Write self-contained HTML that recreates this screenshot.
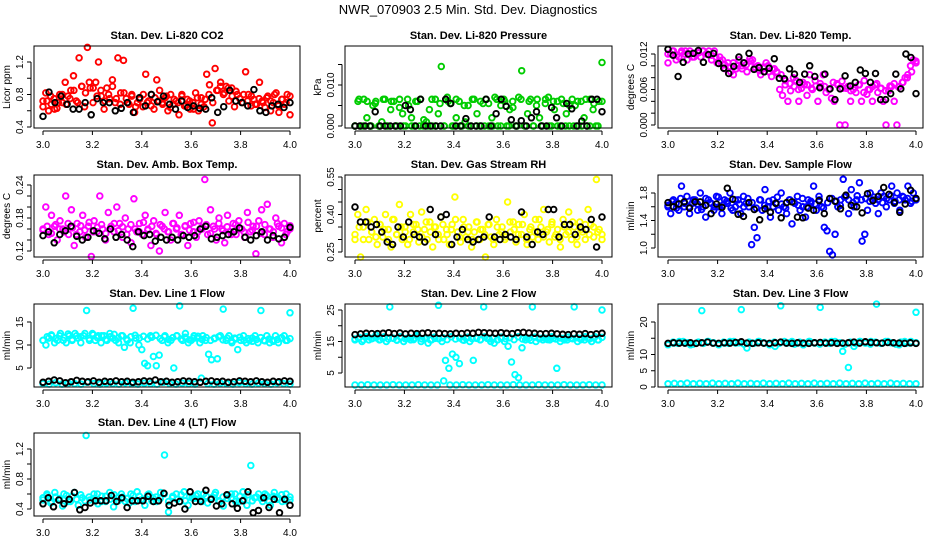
<!DOCTYPE html>
<html><head><meta charset="utf-8"><title>NWR_070903 Diagnostics</title>
<style>
html,body{margin:0;padding:0;background:#fff;}
svg{display:block;font-family:"Liberation Sans",sans-serif;}
</style></head>
<body>
<svg id="chart" width="936" height="540" viewBox="0 0 936 540">
<text x="468" y="14" text-anchor="middle" font-size="13">NWR_070903  2.5 Min. Std. Dev. Diagnostics</text>
</svg>
<script>
// ---- data arrays (x = day fraction, evenly spaced over 3.0..4.0) ----
const xTicks = [3.0, 3.2, 3.4, 3.6, 3.8, 4.0];
const xTickLabels = ["3.0","3.2","3.4","3.6","3.8","4.0"];

const co2Red = [0.72,0.82,0.6,0.68,0.75,0.63,0.8,0.7,0.95,0.78,0.85,1.03,0.72,1.25,0.9,0.65,1.38,0.88,0.7,0.95,1.2,0.78,0.62,0.88,0.75,0.98,0.7,1.25,0.82,1.22,0.75,0.68,0.8,0.58,0.7,0.76,0.65,1.05,0.72,0.8,0.62,0.98,0.85,0.7,0.76,0.6,0.8,0.68,0.72,0.55,0.78,0.66,0.74,0.62,0.7,0.82,0.6,0.76,0.65,1.05,0.92,0.45,1.12,0.85,0.95,0.8,0.9,0.72,0.88,0.65,0.8,0.75,0.7,1.08,0.8,0.66,0.74,0.68,0.95,0.72,0.64,0.78,0.6,0.7,0.82,0.58,0.74,0.68,0.8,0.55];
const co2RedBand = [0.65,0.72,0.78,0.62,0.7,0.8,0.68,0.75,0.85,0.7,0.9,0.82,0.95,0.88,0.78,0.85,0.72,0.8,0.9,0.75,0.68,0.82,0.7,0.78,0.65,0.74,0.8,0.7,0.66,0.76,0.72,0.68,0.78,0.64,0.74,0.7,0.8,0.66,0.72,0.62,0.76,0.68,0.74,0.8,0.7,0.85,0.9,0.82,0.88,0.78,0.84,0.75,0.8,0.72,0.78,0.68,0.75,0.7,0.76,0.72,0.8,0.66,0.74,0.7,0.78];
const co2Black = [0.53,0.83,0.7,0.78,0.68,0.62,0.62,0.7,0.55,0.75,0.7,0.7,0.6,0.63,0.7,0.58,0.76,0.66,0.8,0.71,0.78,0.68,0.62,0.72,0.64,0.66,0.63,0.62,0.76,0.58,0.65,0.85,0.72,0.7,0.66,0.86,0.6,0.58,0.66,0.68,0.64,0.7];

const pressGreen = [0,0.006,0,0.0065,0.002,0,0.005,0.006,0,0.001,0.0065,0,0.004,0.006,0,0.0065,0.003,0,0.005,0.002,0,0.006,0.0065,0,0.001,0.004,0,0.0065,0.003,0.0145,0,0.007,0.0055,0,0.002,0.006,0,0.001,0.005,0,0.0065,0.003,0,0.0055,0.0065,0,0.002,0.007,0,0.005,0.0065,0,0.004,0.006,0,0.007,0.0135,0,0.003,0.0065,0,0.005,0.002,0,0.0065,0.007,0,0.004,0.006,0,0.0055,0.003,0,0.0065,0.005,0,0.006,0.002,0,0.0065,0.004,0,0.006,0.0155];
const pressGreenBand = [0,0.0065,0,0.006,0,0.0055,0,0.0065,0,0.006,0,0.0045,0,0.0065,0,0.006,0,0.0015,0,0.0065,0,0.0055,0,0.006,0,0.0065,0,0.005,0,0.0065,0,0.006,0,0.0055,0,0.0065,0,0.006,0,0.0045,0,0.0065,0,0.006,0,0.0065,0,0.0055,0,0.006,0,0.0065,0,0.005,0,0.006,0,0.0065,0,0.0055,0,0.006];
const pressBlack = [0,0,0,0,0.0035,0,0,0,0,0,0.005,0.004,0,0.0065,0,0,0,0,0.0065,0.0055,0,0,0.0018,0,0,0,0.0065,0,0.003,0.0065,0.0048,0.0015,0,0.0013,0,0.002,0.0035,0,0,0.0045,0.002,0,0.0055,0.0042,0,0.0012,0,0.0065,0.0065,0.0035];

const tempMagenta = [0.0105,0.012,0.0125,0.011,0.0115,0.0125,0.012,0.011,0.0125,0.0115,0.012,0.0125,0.0115,0.0125,0.012,0.0125,0.011,0.0125,0.0105,0.0115,0.011,0.0095,0.0105,0.009,0.0085,0.0095,0.011,0.01,0.0105,0.009,0.0112,0.011,0.0095,0.01,0.0085,0.0098,0.0105,0.009,0.0082,0.0095,0.0088,0.006,0.005,0.0068,0.004,0.0058,0.008,0.0075,0.004,0.0062,0.0068,0.005,0.0085,0.006,0.0075,0.004,0.0065,0.0085,0.0055,0.006,0.0045,0.004,0.007,0,0.0062,0,0.0065,0.004,0.006,0.0055,0.0068,0.004,0.0075,0.0052,0.006,0.004,0.0068,0.0055,0.0062,0.004,0,0.0058,0.0065,0.004,0,0.0065,0.0072,0.008,0.0085,0.01,0.011,0.0108];
const tempMagentaBand = [0.012,0.0125,0.0118,0.0122,0.0125,0.012,0.0115,0.0122,0.0125,0.012,0.0118,0.0115,0.0108,0.0102,0.0098,0.0105,0.01,0.0095,0.0102,0.0108,0.0098,0.0092,0.0096,0.01,0.0094,0.009,0.0085,0.0075,0.007,0.0065,0.006,0.0072,0.0068,0.0062,0.0066,0.007,0.0065,0.006,0.0072,0.0068,0.0074,0.0062,0.0058,0.0064,0.0068,0.0055,0.006,0.0065,0.007,0.0062,0.0058,0.0066,0.007,0.0064,0.0072,0.008,0.009,0.0105];
const tempBlack = [0.0128,0.0118,0.0082,0.0106,0.012,0.0121,0.0126,0.0106,0.0119,0.0121,0.0104,0.0096,0.0087,0.0099,0.0115,0.0105,0.0121,0.0094,0.0097,0.009,0.0096,0.0112,0.0079,0.0078,0.0095,0.0086,0.0072,0.0086,0.01,0.0082,0.0063,0.0086,0.0061,0.0043,0.0061,0.0083,0.0066,0.0072,0.0093,0.0087,0.0072,0.0087,0.0043,0.0043,0.0053,0.0086,0.0061,0.012,0.0114,0.0053];

const ambMagenta = [0.16,0.2,0.15,0.185,0.165,0.14,0.175,0.16,0.22,0.15,0.195,0.13,0.17,0.155,0.185,0.145,0.165,0.11,0.175,0.155,0.22,0.16,0.14,0.19,0.165,0.155,0.2,0.17,0.145,0.18,0.16,0.135,0.215,0.155,0.17,0.15,0.185,0.16,0.13,0.175,0.15,0.12,0.165,0.19,0.155,0.14,0.17,0.16,0.185,0.15,0.165,0.13,0.17,0.155,0.145,0.175,0.16,0.25,0.15,0.195,0.165,0.14,0.18,0.16,0.135,0.185,0.155,0.17,0.15,0.175,0.16,0.145,0.19,0.155,0.165,0.115,0.175,0.195,0.15,0.205,0.16,0.145,0.18,0.165,0.135,0.17,0.155,0.16];
const ambMagentaBand = [0.158,0.165,0.152,0.168,0.16,0.155,0.17,0.162,0.15,0.166,0.158,0.172,0.155,0.163,0.168,0.152,0.16,0.17,0.157,0.164,0.15,0.168,0.16,0.155,0.172,0.158,0.165,0.152,0.168,0.16,0.155,0.17,0.162,0.15,0.166,0.158,0.172,0.155,0.163,0.168,0.152,0.16,0.17,0.157,0.164,0.15,0.168,0.16,0.155,0.172,0.158,0.165,0.152,0.168,0.16,0.155,0.17,0.162,0.15,0.166];
const ambBlack = [0.148,0.155,0.135,0.15,0.157,0.165,0.147,0.14,0.145,0.157,0.152,0.142,0.16,0.145,0.15,0.14,0.128,0.155,0.148,0.15,0.138,0.145,0.14,0.145,0.14,0.148,0.145,0.148,0.16,0.165,0.142,0.145,0.148,0.15,0.155,0.162,0.145,0.14,0.148,0.155,0.14,0.148,0.142,0.145,0.163];

const rhYellow = [0.3,0.4,0.23,0.35,0.42,0.3,0.33,0.38,0.28,0.36,0.31,0.4,0.34,0.27,0.38,0.32,0.44,0.3,0.35,0.28,0.4,0.33,0.36,0.29,0.41,0.34,0.3,0.37,0.27,0.35,0.32,0.39,0.3,0.34,0.28,0.36,0.47,0.33,0.29,0.38,0.31,0.35,0.27,0.33,0.37,0.3,0.34,0.23,0.36,0.31,0.28,0.38,0.32,0.35,0.3,0.45,0.33,0.37,0.29,0.36,0.32,0.4,0.28,0.34,0.31,0.38,0.3,0.35,0.42,0.33,0.29,0.37,0.31,0.34,0.27,0.38,0.32,0.41,0.3,0.35,0.28,0.37,0.33,0.3,0.42,0.36,0.31,0.54,0.34,0.32];
const rhYellowBand = [0.32,0.35,0.3,0.37,0.33,0.31,0.36,0.34,0.3,0.38,0.32,0.35,0.33,0.3,0.36,0.34,0.31,0.37,0.33,0.35,0.3,0.36,0.32,0.34,0.38,0.31,0.35,0.33,0.3,0.37,0.34,0.32,0.36,0.3,0.35,0.33,0.31,0.37,0.34,0.32,0.36,0.3,0.35,0.33,0.38,0.31,0.34,0.36,0.32,0.3,0.35,0.33,0.37,0.31,0.34,0.36,0.32,0.35,0.33,0.3];
const rhBlack = [0.43,0.37,0.37,0.35,0.36,0.33,0.29,0.28,0.35,0.31,0.37,0.32,0.31,0.29,0.42,0.32,0.39,0.4,0.28,0.31,0.34,0.3,0.29,0.3,0.31,0.39,0.31,0.3,0.32,0.31,0.3,0.41,0.31,0.28,0.33,0.32,0.42,0.42,0.31,0.36,0.36,0.32,0.35,0.34,0.38,0.27,0.39];

const flowBlue = [1.6,1.5,1.7,1.65,1.55,1.9,1.6,1.75,1.5,1.65,1.7,1.55,1.8,1.6,1.45,1.7,1.65,1.55,1.75,1.6,1.5,1.7,1.65,1.8,1.55,1.6,1.7,1.5,1.75,1.65,1.6,1.05,1.3,1.15,1.7,1.55,1.85,1.6,1.45,1.7,1.65,1.55,1.8,1.6,1.5,1.7,1.35,1.65,1.75,1.55,1.6,1.45,1.7,1.65,1.9,1.55,1.75,1.6,1.3,1.25,0.95,0.9,1.2,1.6,1.7,2.0,1.75,1.5,1.85,1.6,1.7,1.95,1.1,1.2,1.55,1.8,1.7,1.65,1.5,1.8,1.75,1.6,1.7,1.9,1.65,1.8,1.55,1.75,1.7,1.9,1.65,1.8,1.7];
const flowBlueBand = [1.62,1.68,1.58,1.72,1.65,1.6,1.7,1.64,1.56,1.72,1.66,1.6,1.74,1.62,1.68,1.58,1.7,1.64,1.6,1.72,1.66,1.58,1.7,1.62,1.68,1.6,1.74,1.64,1.58,1.7,1.66,1.62,1.72,1.6,1.68,1.64,1.7,1.58,1.66,1.72,1.68,1.62,1.74,1.7,1.66,1.76,1.7,1.72,1.68,1.74,1.7,1.66,1.72,1.76,1.68,1.7,1.74,1.72,1.68,1.72];
const flowBlack = [1.66,1.6,1.64,1.67,1.58,1.67,1.67,1.62,1.5,1.64,1.59,1.87,1.71,1.49,1.46,1.66,1.56,1.41,1.57,1.52,1.65,1.44,1.66,1.67,1.45,1.44,1.58,1.55,1.69,1.5,1.72,1.68,1.57,1.77,1.62,1.6,1.51,1.79,1.69,1.75,1.88,1.78,1.66,1.52,1.64,1.84,1.72];

const line1Cyan = [11,10,11.5,12,10.5,11,12.5,11,10.5,12,11,12.5,11.5,10.5,12,17.5,11,12.5,11,12,10.5,12,11,12.5,11.5,11,10.5,12,9.5,11,10.5,18,11.5,10,9,6,5.5,12,7.5,5.5,7.8,11,12,10.5,11,5,12,18.5,11,12.5,10.5,11,12,11.5,10.5,12,11,8,6.8,11.5,7,12,17.8,11,12,10.5,11.5,9,11,12,10.5,11,11.5,12,10.5,17.5,11,12,10.5,11,12,10.5,11.5,12,11,17];
const line1CyanBand = [11,11.8,12.2,11.4,12,11.6,12.4,11.2,12,11.8,12.5,11.4,12.2,11.6,12,11.2,11.8,12.3,11.5,12,11.3,11.8,12.1,11.5,11.9,11.3,11.7,12.1,11.4,11.8,11.2,11.6,12,11.3,11.7,11.1,11.5,11.9,11.2,11.6,11,11.4,11.8,11.1,11.5,10.9,11.3,11.7,11,11.4,10.8,11.2,11.6,10.9,11.3,10.8,11.2,11.6,11,11.4];
const line1CyanLow = [1.6,1.5,1.8,1.5,1.7,1.6,1.5,1.9,1.6,1.5,1.7,1.6,1.5,1.8,1.6,1.5,1.7,1.6,1.5,1.9,1.6,1.5,1.7,1.6,1.5,2.8,1.6,1.5,1.7,1.6,1.5,1.8,1.6,1.5,1.7,1.6,1.5,1.8,1.6,1.5];
const line1Black = [1.9,2.1,2.4,2.2,1.8,2.0,2.3,2.1,2.0,2.2,1.9,2.1,2.0,2.2,2.0,2.1,1.9,2.0,2.2,2.1,2.4,2.0,2.1,1.9,2.0,2.2,2.1,2.0,1.9,2.1,2.2,2.0,2.1,1.9,2.0,2.2,2.1,2.0,2.2,2.0,1.9,2.1,2.0,2.2,2.1];

const line2Cyan = [15.5,16,15,16.5,15.5,16,17,15.5,16,15,26,16,15.5,16.5,15,16,15.5,16,17,15,16,14.5,15.5,16,26.5,15,9,6.5,11,10,8,15.5,16,15,9,16,15.5,26,16,15,14.5,15.5,16,15,13.5,8.5,4.5,3.5,13,15.5,16,26,15,16,15.5,16,15.5,16,6.5,15,16,15.5,16,26,15,16,15.5,16,15,16.5,15.5,25];
const line2CyanBand = [15.8,16.3,15.5,16.6,15.9,16.2,15.6,16.5,15.8,16.1,15.4,16.4,15.9,16.2,15.6,16.5,15.8,16.1,15.5,16.4,15.9,16.2,15.6,16.5,15.8,16.1,15.4,16.4,15.9,16.2,15.6,16.5,15.8,16.1,15.5,16.4,15.9,16.2,15.6,16.5,15.8,16.1,15.4,16.4,15.9,16.2,15.6,16.5,15.8,16.1,15.5,16.4,15.9,16.2,15.6,16.5,15.8,16.1,15.5,16.3];
const line2CyanLow = [1.2,1.2,1.3,1.2,1.2,1.2,1.3,1.2,1.2,1.2,1.3,1.2,1.2,1.2,2.5,1.2,1.2,1.3,1.2,1.2,1.2,1.3,1.2,1.2,1.2,1.3,1.2,1.2,1.2,1.3,1.2,1.2,1.2,1.3,1.2,1.2,1.2,1.3,1.2,1.2];
const line2Black = [17.2,17.4,17.6,17.5,17.5,17.6,17.8,17.5,17.7,17.4,17.6,17.5,17.6,17.8,17.5,17.6,17.5,17.4,17.6,17.5,17.7,17.6,17.9,17.8,17.7,17.6,17.8,17.6,17.5,17.8,17.9,17.7,17.6,17.4,17.5,17.6,17.4,17.3,17.2,17.4,17.3,17.5,17.2,17.4,17.6];

const line3Cyan = [13,13.5,14,13.5,13,13.5,23.5,14,13.5,13,13.5,14,13.5,23.8,12,13.5,14,13.5,13,12.5,25,13.5,14,13.5,13,14,13.5,24.5,13.5,14,13.5,11,6,12.5,14,13.5,14,25.5,13.5,14,13.5,13,14,13.5,23];
const line3CyanBand = [13.2,13.8,13.4,14,13.6,13.2,13.8,13.4,14,13.6,13.2,13.8,13.4,14,13.6,13.2,13.8,13.4,14,13.6,13.2,13.8,13.4,14,13.6,13.2,13.8,13.4,14,13.6,13.2,13.8,13.4,14,13.6,13.2,13.8,13.4,14,13.6,13.2,13.8,13.4,14,13.6,13.2,13.8,13.4,14,13.6];
const line3CyanLow = [1,1.1,1,1.2,1,1.1,1,1.2,1,1.1,1,1.2,1,1.1,1,1.2,1,1.1,1,1.2,1,1.1,1,1.2,1,1.1,1,1.2,1,1.1,1,1.2,1,1.1,1,1.2,1,1.1,1,1];
const line3Black = [13.4,13.6,13.5,13.5,13.6,13.4,13.6,13.8,13.5,13.4,13.6,13.5,13.7,13.9,13.5,13.4,13.6,13.5,13.4,13.6,13.8,13.5,13.4,13.6,13.5,13.4,13.6,13.7,13.5,13.6,13.4,13.5,13.6,13.8,13.5,13.9,13.7,13.6,13.5,13.7,13.6,13.5,13.4,13.6,13.4];

const line4Cyan = [0.55,0.6,0.48,0.62,0.52,0.44,0.58,0.5,0.62,0.45,0.55,1.38,0.52,0.6,0.47,0.57,0.5,0.62,0.43,0.55,0.6,0.5,0.48,0.58,0.63,0.52,0.45,0.6,0.55,0.5,0.62,1.12,0.36,0.55,0.6,0.5,0.63,0.45,0.55,0.58,0.52,0.6,0.48,0.55,0.62,0.5,0.44,0.58,0.55,0.6,0.5,0.63,0.45,0.98,0.55,0.6,0.5,0.58,0.45,0.62,0.55,0.5,0.6,0.52];
const line4CyanBand = [0.52,0.58,0.5,0.56,0.54,0.6,0.5,0.57,0.53,0.59,0.51,0.56,0.54,0.6,0.5,0.57,0.53,0.59,0.51,0.56,0.54,0.6,0.5,0.57,0.53,0.59,0.51,0.56,0.54,0.6,0.5,0.57,0.53,0.59,0.51,0.56,0.54,0.6,0.5,0.57,0.53,0.59,0.51,0.56,0.54,0.6,0.5,0.57,0.53,0.59,0.51,0.56,0.54,0.6,0.5,0.57,0.53,0.59,0.51,0.56];
const line4Black = [0.47,0.55,0.43,0.52,0.47,0.53,0.62,0.39,0.42,0.48,0.51,0.51,0.51,0.58,0.5,0.55,0.42,0.51,0.51,0.51,0.57,0.5,0.51,0.61,0.45,0.48,0.5,0.4,0.63,0.5,0.5,0.65,0.53,0.44,0.47,0.59,0.47,0.41,0.51,0.63,0.35,0.38,0.55,0.42,0.53,0.35,0.53,0.45];

// ---- layout ----
const NS = "http://www.w3.org/2000/svg";
const svg = document.getElementById("chart");
const cols = [{l:34,r:300,x3:43,x4:290},{l:345,r:612,x3:355,x4:602},{l:658,r:923,x3:668,x4:916}];
const rows = [{t:46,b:128},{t:175,b:257},{t:304,b:387},{t:433,b:516}];

const panels = [
 {name:"co2",title:"Stan. Dev. Li-820 CO2",ylab:"Licor ppm",c:0,r:0,a:[0.4,127],b:[1.2,62],ticks:[0.4,0.6,0.8,1.0,1.2],labels:{"0.4":"0.4","0.8":"0.8","1.2":"1.2"},series:[[co2Red,"#ff0000"],[co2RedBand,"#ff0000"],[co2Black,"#000"]]},
 {name:"pressure",title:"Stan. Dev. Li-820 Pressure",ylab:"kPa",c:1,r:0,a:[0,126],b:[0.01,85],ticks:[0,0.005,0.01,0.015],labels:{"0":"0.000","0.01":"0.010"},series:[[pressGreen,"#00cc00"],[pressGreenBand,"#00cc00"],[pressBlack,"#000"]]},
 {name:"li820-temp",title:"Stan. Dev. Li-820 Temp.",ylab:"degrees C",c:2,r:0,a:[0,125],b:[0.012,54],ticks:[0,0.002,0.004,0.006,0.008,0.01,0.012],labels:{"0":"0.000","0.006":"0.006","0.012":"0.012"},series:[[tempMagenta,"#ff00ff"],[tempMagentaBand,"#ff00ff"],[tempBlack,"#000"]]},
 {name:"amb-box-temp",title:"Stan. Dev. Amb. Box Temp.",ylab:"degrees C",c:0,r:1,a:[0.12,251],b:[0.24,185],ticks:[0.12,0.14,0.16,0.18,0.2,0.22,0.24],labels:{"0.12":"0.12","0.18":"0.18","0.24":"0.24"},series:[[ambMagenta,"#ff00ff"],[ambMagentaBand,"#ff00ff"],[ambBlack,"#000"]]},
 {name:"gas-stream-rh",title:"Stan. Dev. Gas Stream RH",ylab:"percent",c:1,r:1,a:[0.25,252],b:[0.55,177],ticks:[0.25,0.3,0.35,0.4,0.45,0.5,0.55],labels:{"0.25":"0.25","0.4":"0.40","0.55":"0.55"},series:[[rhYellow,"#ffff00"],[rhYellowBand,"#ffff00"],[rhBlack,"#000"]]},
 {name:"sample-flow",title:"Stan. Dev. Sample Flow",ylab:"ml/min",c:2,r:1,a:[1.0,248],b:[1.8,193],ticks:[1.0,1.2,1.4,1.6,1.8],labels:{"1":"1.0","1.4":"1.4","1.8":"1.8"},series:[[flowBlue,"#0000ff"],[flowBlueBand,"#0000ff"],[flowBlack,"#000"]]},
 {name:"line1-flow",title:"Stan. Dev. Line 1 Flow",ylab:"ml/min",c:0,r:2,a:[5,368],b:[15,322],ticks:[5,10,15],labels:{"5":"5","10":"10","15":"15"},series:[[line1Cyan,"#00ffff"],[line1CyanBand,"#00ffff"],[line1CyanLow,"#00ffff"],[line1Black,"#000"]]},
 {name:"line2-flow",title:"Stan. Dev. Line 2 Flow",ylab:"ml/min",c:1,r:2,a:[5,373],b:[25,310],ticks:[5,10,15,20,25],labels:{"5":"5","15":"15","25":"25"},series:[[line2Cyan,"#00ffff"],[line2CyanBand,"#00ffff"],[line2CyanLow,"#00ffff"],[line2Black,"#000"]]},
 {name:"line3-flow",title:"Stan. Dev. Line 3 Flow",ylab:"ml/min",c:2,r:2,a:[0,387],b:[20,322],ticks:[0,5,10,15,20],labels:{"0":"0","5":"5","10":"10","20":"20"},series:[[line3Cyan,"#00ffff"],[line3CyanBand,"#00ffff"],[line3CyanLow,"#00ffff"],[line3Black,"#000"]]},
 {name:"line4-flow",title:"Stan. Dev. Line 4 (LT) Flow",ylab:"ml/min",c:0,r:3,a:[0.4,509],b:[1.2,449],ticks:[0.4,0.6,0.8,1.0,1.2],labels:{"0.4":"0.4","0.8":"0.8","1.2":"1.2"},series:[[line4Cyan,"#00ffff"],[line4CyanBand,"#00ffff"],[line4Black,"#000"]]}
];

function mk(tag, attrs, parent){
  const e = document.createElementNS(NS, tag);
  for (const k in attrs) e.setAttribute(k, attrs[k]);
  parent.appendChild(e);
  return e;
}

panels.forEach(p => {
  const C = cols[p.c], R = rows[p.r];
  const xs = v => C.x3 + (v - 3) * (C.x4 - C.x3);
  const ys = v => p.a[1] + (v - p.a[0]) * (p.b[1] - p.a[1]) / (p.b[0] - p.a[0]);
  const g = mk("g", {}, svg);
  
  

  const t = mk("text", {x:(C.l+C.r)/2, y:R.t-7, "text-anchor":"middle", "font-size":"11", "font-weight":"bold"}, g);
  t.textContent = p.title;
  
  

  p.series.forEach((s, si) => {
    const vals = s[0], col = s[1];
    const sg = mk("g", {fill:"none", stroke:col, "stroke-width":"1.9"}, g);
    
    
    const n = vals.length;
    vals.forEach((v, i) => {
      const x = 3 + i / (n - 1);
      const c = mk("circle", {cx: xs(x).toFixed(1), cy: ys(v).toFixed(1), r: "2.8"}, sg);
      
      
    });
  });

  const box = mk("rect", {x:C.l, y:R.t, width:C.r-C.l, height:R.b-R.t, fill:"none", stroke:"#000", "stroke-width":"1"}, g);
  
  

  const xa = mk("g", {stroke:"#000", "stroke-width":"1"}, g);
  
  
  mk("line", {x1:xs(3), x2:xs(4), y1:R.b+3, y2:R.b+3}, xa);
  xTicks.forEach((v, i) => {
    mk("line", {x1:xs(v), x2:xs(v), y1:R.b+3, y2:R.b+7}, xa);
    const lt = mk("text", {x:xs(v), y:R.b+20, "text-anchor":"middle", "font-size":"10", stroke:"none", fill:"#000"}, xa);
    lt.textContent = xTickLabels[i];
  });

  const ya = mk("g", {stroke:"#000", "stroke-width":"1"}, g);
  
  
  const ax = C.l - 3;
  mk("line", {x1:ax, x2:ax, y1:ys(p.ticks[0]), y2:ys(p.ticks[p.ticks.length-1])}, ya);
  p.ticks.forEach(v => {
    const y = ys(v);
    mk("line", {x1:ax-4, x2:ax, y1:y, y2:y}, ya);
    const key = String(+v.toFixed(4));
    if (p.labels[key] !== undefined) {
      const lt = mk("text", {x:0, y:0, transform:`translate(${ax-8},${y}) rotate(-90)`, "text-anchor":"middle", "font-size":"10", stroke:"none", fill:"#000"}, ya);
      lt.textContent = p.labels[key];
    }
  });
  const yl = mk("text", {x:0, y:0, transform:`translate(${C.l-24},${(R.t+R.b)/2}) rotate(-90)`, "text-anchor":"middle", "font-size":"10"}, g);
  yl.textContent = p.ylab;
  
  
});
</script>
</body></html>
